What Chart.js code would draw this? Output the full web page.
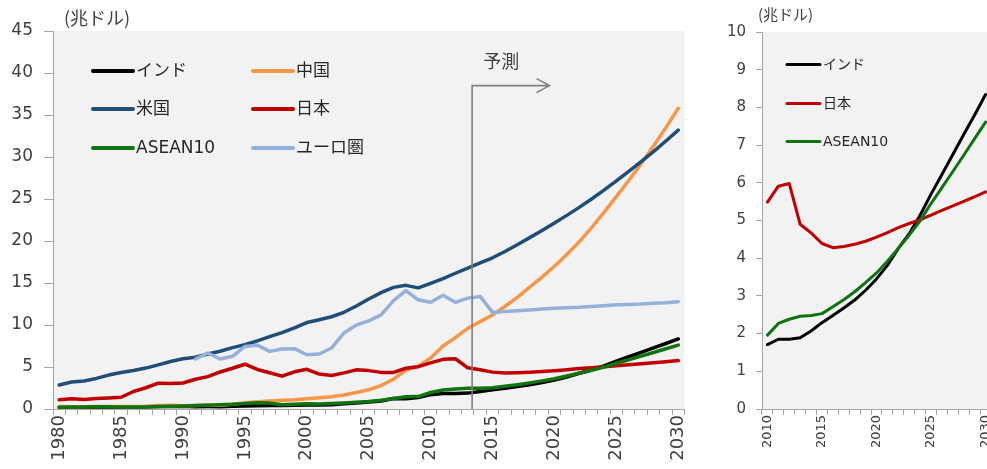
<!DOCTYPE html>
<html>
<head>
<meta charset="utf-8">
<script src="https://cdn.jsdelivr.net/npm/chart.js@4.4.1/dist/chart.umd.min.js"></script>
<style>
  html, body { margin: 0; padding: 0; background: #fff; overflow: hidden; width: 987px; height: 469px; }
  #leftChart { position: absolute; left: 0; top: 0; }
  #rightChart { position: absolute; left: 700px; top: 0; }
</style>
</head>
<body>
<canvas id="leftChart" width="700" height="469"></canvas>
<canvas id="rightChart" width="320" height="469"></canvas>
<script>
// categories
const years = [1980, 1981, 1982, 1983, 1984, 1985, 1986, 1987, 1988, 1989,
  1990, 1991, 1992, 1993, 1994, 1995, 1996, 1997, 1998, 1999,
  2000, 2001, 2002, 2003, 2004, 2005, 2006, 2007, 2008, 2009,
  2010, 2011, 2012, 2013, 2014, 2015, 2016, 2017, 2018, 2019,
  2020, 2021, 2022, 2023, 2024, 2025, 2026, 2027, 2028, 2029, 2030];
const shownYears = [1980, 1985, 1990, 1995, 2000, 2005, 2010, 2015, 2020, 2025, 2030];

// GDP, trillion USD (兆ドル)
const india = [0.19, 0.20, 0.20, 0.22, 0.21, 0.23, 0.25, 0.28, 0.30, 0.30,
  0.33, 0.28, 0.29, 0.28, 0.33, 0.37, 0.40, 0.42, 0.43, 0.46,
  0.48, 0.49, 0.52, 0.62, 0.72, 0.83, 0.95, 1.24, 1.22, 1.37,
  1.71, 1.85, 1.85, 1.89, 2.07, 2.29, 2.48, 2.68, 2.89, 3.15,
  3.45, 3.81, 4.26, 4.65, 5.14, 5.70, 6.22, 6.75, 7.28, 7.80, 8.34];
const china = [0.30, 0.28, 0.28, 0.30, 0.31, 0.31, 0.30, 0.32, 0.41, 0.46,
  0.39, 0.41, 0.49, 0.44, 0.56, 0.73, 0.86, 0.96, 1.03, 1.09,
  1.21, 1.34, 1.47, 1.66, 1.96, 2.29, 2.79, 3.55, 4.60, 5.10,
  6.07, 7.50, 8.50, 9.60, 10.4, 11.2, 12.2, 13.3, 14.5, 15.7,
  17.0, 18.4, 19.9, 21.6, 23.4, 25.3, 27.2, 29.2, 31.3, 33.5, 35.8];
const usa = [2.86, 3.21, 3.34, 3.64, 4.04, 4.35, 4.59, 4.87, 5.25, 5.66,
  5.98, 6.17, 6.54, 6.88, 7.31, 7.66, 8.10, 8.61, 9.09, 9.66,
  10.29, 10.63, 10.98, 11.51, 12.27, 13.09, 13.86, 14.48, 14.72, 14.42,
  14.96, 15.52, 16.16, 16.77, 17.40, 18.00, 18.75, 19.55, 20.40, 21.25,
  22.15, 23.05, 24.00, 25.00, 26.05, 27.15, 28.30, 29.45, 30.65, 31.90, 33.20];
const japan = [1.10, 1.22, 1.13, 1.24, 1.31, 1.40, 2.08, 2.53, 3.07, 3.05,
  3.10, 3.54, 3.85, 4.41, 4.85, 5.33, 4.71, 4.32, 3.91, 4.43,
  4.73, 4.16, 3.98, 4.30, 4.66, 4.57, 4.36, 4.36, 4.85, 5.04,
  5.49, 5.91, 5.98, 4.90, 4.67, 4.39, 4.28, 4.31, 4.37, 4.45,
  4.56, 4.68, 4.81, 4.92, 5.02, 5.14, 5.27, 5.39, 5.51, 5.63, 5.76];
const asean = [0.22, 0.24, 0.25, 0.26, 0.27, 0.25, 0.23, 0.25, 0.29, 0.33,
  0.37, 0.41, 0.45, 0.51, 0.57, 0.67, 0.74, 0.70, 0.50, 0.57,
  0.62, 0.60, 0.65, 0.72, 0.81, 0.90, 1.05, 1.25, 1.45, 1.48,
  1.96, 2.27, 2.38, 2.46, 2.48, 2.53, 2.71, 2.90, 3.11, 3.35,
  3.61, 3.92, 4.26, 4.61, 4.99, 5.45, 5.87, 6.30, 6.73, 7.17, 7.61];
const euro = [null, null, null, null, null, null, null, null, null, null,
  null, 5.95, 6.67, 5.95, 6.27, 7.45, 7.60, 6.86, 7.14, 7.18,
  6.46, 6.55, 7.26, 9.05, 10.0, 10.5, 11.2, 12.9, 14.1, 13.0,
  12.7, 13.55, 12.7, 13.2, 13.4, 11.5, 11.6, 11.7, 11.8, 11.9,
  12.0, 12.05, 12.1, 12.2, 12.3, 12.4, 12.45, 12.5, 12.6, 12.65, 12.77];

// right panel: 2010-2030
const recentStart = years.indexOf(2010);
const yearsRecent = years.slice(recentStart);

const FONT = "'DejaVu Sans', 'Noto Sans CJK JP', sans-serif";
const JP = "'Noto Sans CJK JP', sans-serif";
const AXIS = '#a6a6a6';
const TEXT = '#404040';
const colors = {
  india: '#000000', china: '#f79646', usa: '#1f4e79',
  japan: '#c00000', asean: '#0f730f', euro: '#95b1d9'
};

const bgPlugin = {
  id: 'plotBg',
  beforeDraw(chart) {
    const a = chart.chartArea, c = chart.ctx;
    c.save();
    c.fillStyle = '#f2f2f2';
    c.fillRect(a.left, a.top, a.right - a.left, a.bottom - a.top);
    c.restore();
  }
};

function drawLegend(c, items, cols, rows, lineLen, lineW, size) {
  c.save();
  c.font = size + 'px ' + FONT;
  c.textBaseline = 'middle';
  c.fillStyle = '#262626';
  items.forEach(function(it, i) {
    const x = cols[i % cols.length], y = rows[Math.floor(i / cols.length)];
    c.strokeStyle = it.color;
    c.lineWidth = lineW;
    c.lineCap = 'round';
    c.beginPath(); c.moveTo(x, y); c.lineTo(x + lineLen, y); c.stroke();
    c.fillText(it.label, x + lineLen + 3, y + 1);
  });
  c.restore();
}

function unitLabel(c, x, y, size) {
  c.save();
  c.font = size + 'px ' + JP;
  c.fillStyle = TEXT;
  c.textBaseline = 'middle';
  c.fillText('(兆ドル)', x, y);
  c.restore();
}

const leftExtras = {
  id: 'leftExtras',
  afterDraw(chart) {
    const c = chart.ctx, xs = chart.scales.x, ys = chart.scales.y;
    unitLabel(c, 64, 18, 18);
    drawLegend(c, [
      {label: 'インド', color: colors.india}, {label: '中国', color: colors.china},
      {label: '米国', color: colors.usa}, {label: '日本', color: colors.japan},
      {label: 'ASEAN10', color: colors.asean}, {label: 'ユーロ圏', color: colors.euro}
    ], [93, 253], [71, 109, 148], 40, 4, 17);
    // 予測 arrow
    const x0 = xs.getPixelForValue(33.35);
    const yTop = ys.getPixelForValue(38.5);
    const x1 = xs.getPixelForValue(39.6);
    c.save();
    c.strokeStyle = '#7f7f7f';
    c.lineWidth = 1.6;
    c.beginPath();
    c.moveTo(x0, ys.bottom); c.lineTo(x0, yTop); c.lineTo(x1, yTop);
    c.moveTo(x1 - 13, yTop - 7); c.lineTo(x1, yTop); c.lineTo(x1 - 13, yTop + 7);
    c.stroke();
    c.font = '18px ' + JP;
    c.fillStyle = TEXT;
    c.textAlign = 'center';
    c.textBaseline = 'middle';
    c.fillText('予測', xs.getPixelForValue(35.7), ys.getPixelForValue(41.4));
    c.restore();
  }
};

const rightExtras = {
  id: 'rightExtras',
  afterDraw(chart) {
    const c = chart.ctx;
    unitLabel(c, 58, 14, 15);
    drawLegend(c, [
      {label: 'インド', color: colors.india},
      {label: '日本', color: colors.japan},
      {label: 'ASEAN10', color: colors.asean}
    ], [87], [64.5, 103.5, 141.5], 33, 3, 14);
  }
};

function xAxis(labels, size, height) {
  return {
    offset: true,
    grid: {offset: true, drawOnChartArea: false, drawTicks: true, tickLength: 6, color: AXIS},
    border: {color: AXIS},
    ticks: {
      autoSkip: false, maxRotation: 90, minRotation: 90, padding: 0, color: TEXT,
      font: {family: FONT, size: size},
      callback: function(v, i) { return shownYears.includes(labels[i]) ? String(labels[i]) : ''; }
    },
    afterFit: function(s) { s.height = height; }
  };
}

function yAxis(max, step, size, tick, pad, width) {
  return {
    min: 0, max: max,
    grid: {drawOnChartArea: false, drawTicks: true, tickLength: tick, color: AXIS},
    border: {color: AXIS},
    ticks: {stepSize: step, color: TEXT, padding: pad, font: {family: FONT, size: size}},
    afterFit: function(s) { s.width = width; }
  };
}

function line(label, data, color, order, width) {
  return {label: label, data: data, borderColor: color, backgroundColor: color,
    borderWidth: width, order: order, pointRadius: 0, tension: 0,
    borderJoinStyle: 'round', borderCapStyle: 'round', spanGaps: false};
}

window.onload = function() {
  new Chart(document.getElementById('leftChart'), {
    type: 'line',
    data: {
      labels: years,
      datasets: [
        line('インド', india, colors.india, 5, 3.5),
        line('中国', china, colors.china, 4, 3.5),
        line('米国', usa, colors.usa, 3, 3.5),
        line('日本', japan, colors.japan, 2, 3.5),
        line('ASEAN10', asean, colors.asean, 1, 3.5),
        line('ユーロ圏', euro, colors.euro, 0, 3.5)
      ]
    },
    options: {
      responsive: false, animation: false, devicePixelRatio: 1,
      layout: {padding: {top: 31, right: 13, left: 0, bottom: 0}},
      plugins: {legend: {display: false}, tooltip: {enabled: false}},
      scales: {
        x: xAxis(years, 18, 60),
        y: yAxis(45, 5, 17, 9, 11, 53)
      }
    },
    plugins: [bgPlugin, leftExtras]
  });

  new Chart(document.getElementById('rightChart'), {
    type: 'line',
    data: {
      labels: yearsRecent,
      datasets: [
        line('インド', india.slice(recentStart), colors.india, 2, 3),
        line('日本', japan.slice(recentStart), colors.japan, 1, 3),
        line('ASEAN10', asean.slice(recentStart), colors.asean, 0, 3)
      ]
    },
    options: {
      responsive: false, animation: false, devicePixelRatio: 1,
      layout: {padding: {top: 32, right: 29, left: 0, bottom: 0}},
      plugins: {legend: {display: false}, tooltip: {enabled: false}},
      scales: {
        x: xAxis(yearsRecent, 13, 60),
        y: yAxis(10, 1, 15, 6, 10, 62)
      }
    },
    plugins: [bgPlugin, rightExtras]
  });
};
</script>
</body>
</html>
